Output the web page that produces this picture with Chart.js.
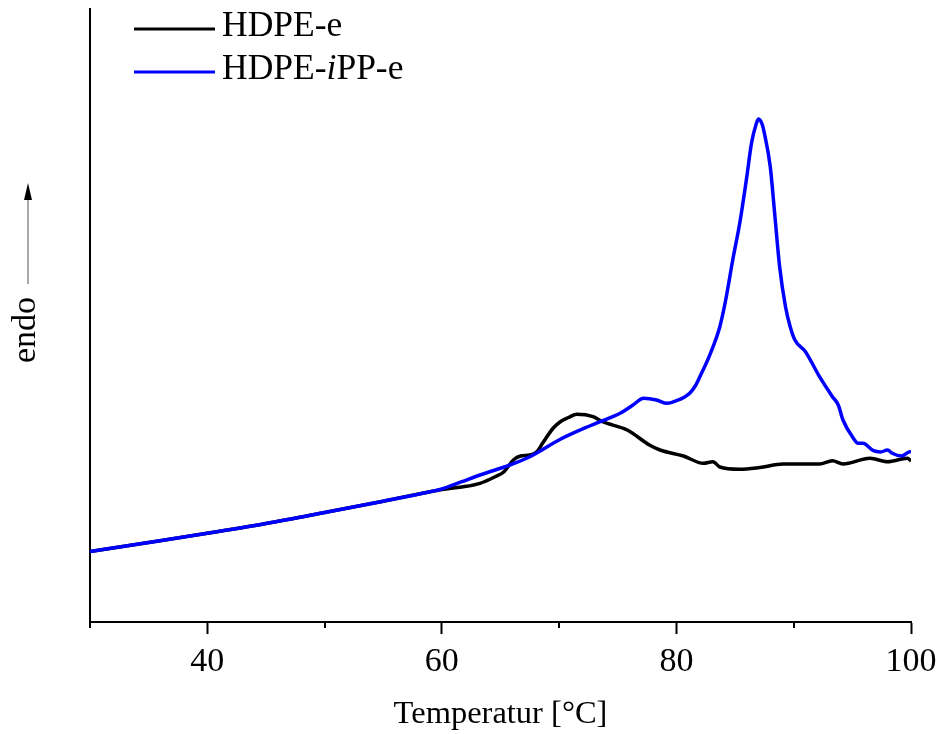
<!DOCTYPE html>
<html>
<head>
<meta charset="utf-8">
<title>DSC endo</title>
<script src="https://cdn.jsdelivr.net/npm/chart.js@4/dist/chart.umd.min.js"></script>
<style>
  body { margin: 0; background: #fff; }
  #dsc { display: block; }
</style>
</head>
<body>
<canvas id="dsc" width="941" height="734"></canvas>
<script>
// x: Temperatur in °C, y: heat flow in arbitrary units (endo up)
const seriesNames = ["HDPE-e", "HDPE-iPP-e"];
const seriesColors = ["#000000", "#0000ff"];

const tempHdpe = [30, 35, 40, 45, 50, 55, 59, 60, 61.7, 63.25, 64.5, 65.3, 66.1, 66.7, 67.5, 68.1,
  68.6, 69.5, 70.1, 70.8, 71.5, 72.9, 73.7, 75.8, 77.7, 78.6, 80.6, 82.3, 83.1, 83.7, 85.4, 87.1,
  89.1, 92.2, 93.3, 94.2, 96.5, 98, 99.7, 100];
const flowHdpe = [0.705, 0.795, 0.887, 0.985, 1.095, 1.208, 1.303, 1.325, 1.35, 1.387, 1.45, 1.503, 1.62, 1.66, 1.67, 1.703,
  1.79, 1.94, 2.003, 2.045, 2.077, 2.053, 2.003, 1.92, 1.77, 1.72, 1.66, 1.587, 1.603, 1.55, 1.527, 1.545,
  1.58, 1.58, 1.613, 1.58, 1.637, 1.603, 1.637, 1.61];

const tempBlend = [30, 35, 40, 45, 50, 55, 59, 60, 61.7, 63.25, 65.8, 67.5, 70.1, 71.8, 73.5, 75.2,
  76.3, 77.2, 78.3, 79.2, 80, 80.7, 81.15, 81.6, 82, 82.9, 83.7, 84.2, 84.8, 85.4, 86, 86.4,
  86.8, 87.0, 87.3, 87.5, 88, 88.4, 88.8, 89.3, 89.7, 90.1, 91, 92.2, 93.3, 93.8, 94.2, 95,
  95.5, 95.9, 96.8, 97.4, 98, 98.4, 99.2, 99.9, 100];
const flowBlend = [0.705, 0.795, 0.887, 0.985, 1.095, 1.208, 1.303, 1.33, 1.403, 1.47, 1.57, 1.653, 1.827, 1.92, 2.003, 2.087,
  2.17, 2.237, 2.22, 2.187, 2.213, 2.25, 2.29, 2.36, 2.453, 2.687, 2.953, 3.22, 3.62, 3.99, 4.453, 4.787,
  4.98, 5.03, 4.98, 4.887, 4.553, 4.053, 3.553, 3.153, 2.953, 2.82, 2.703, 2.453, 2.253, 2.17, 2.02, 1.853,
  1.787, 1.787, 1.713, 1.70, 1.72, 1.687, 1.66, 1.703, 1.70];

const majorTicks = [40, 60, 80, 100];
const minorTicks = [30, 50, 70, 90];

const serif = '"Liberation Serif", "Times New Roman", serif';

function toPoints(xs, ys) {
  return xs.map((x, i) => ({ x: x, y: ys[i] }));
}

// short minor ticks, y label with arrow, legend with italic i
const extras = {
  id: 'extras',
  afterDraw(chart) {
    const ctx = chart.ctx;
    const xs = chart.scales.x;
    const bottom = chart.chartArea.bottom;
    ctx.save();

    ctx.strokeStyle = '#000';
    ctx.lineWidth = 2;
    minorTicks.forEach(v => {
      const px = Math.round(xs.getPixelForValue(v));
      ctx.beginPath();
      ctx.moveTo(px, bottom);
      ctx.lineTo(px, bottom + 6);
      ctx.stroke();
    });

    // endo + arrow
    ctx.save();
    ctx.translate(26, 330);
    ctx.rotate(-Math.PI / 2);
    ctx.fillStyle = '#000';
    ctx.font = '34px ' + serif;
    ctx.textAlign = 'center';
    ctx.textBaseline = 'middle';
    ctx.fillText('endo', 0, 0);
    ctx.restore();

    ctx.strokeStyle = '#555';
    ctx.lineWidth = 1;
    ctx.beginPath();
    ctx.moveTo(28, 284);
    ctx.lineTo(28, 196);
    ctx.stroke();
    ctx.fillStyle = '#000';
    ctx.beginPath();
    ctx.moveTo(28, 183);
    ctx.lineTo(24, 200);
    ctx.lineTo(32, 200);
    ctx.closePath();
    ctx.fill();

    // legend
    const rows = [29, 72];
    ctx.lineWidth = 3;
    ctx.textBaseline = 'middle';
    ctx.textAlign = 'left';
    seriesNames.forEach((name, i) => {
      const y = rows[i];
      ctx.strokeStyle = seriesColors[i];
      ctx.beginPath();
      ctx.moveTo(134, y);
      ctx.lineTo(215, y);
      ctx.stroke();
      ctx.fillStyle = '#000';
      let x = 222;
      const parts = name === 'HDPE-iPP-e' ? [['HDPE-', false], ['i', true], ['PP-e', false]] : [[name, false]];
      parts.forEach(([txt, ital]) => {
        ctx.font = (ital ? 'italic ' : '') + '35.5px ' + serif;
        ctx.fillText(txt, x, y - 2);
        x += ctx.measureText(txt).width;
      });
    });
    ctx.restore();
  }
};

new Chart(document.getElementById('dsc'), {
  type: 'line',
  data: {
    datasets: [
      {
        label: seriesNames[0],
        data: toPoints(tempHdpe, flowHdpe),
        borderColor: seriesColors[0],
        borderWidth: 3.5,
        pointRadius: 0,
        cubicInterpolationMode: 'monotone',
        order: 2
      },
      {
        label: seriesNames[1],
        data: toPoints(tempBlend, flowBlend),
        borderColor: seriesColors[1],
        borderWidth: 3.5,
        pointRadius: 0,
        cubicInterpolationMode: 'monotone',
        order: 1
      }
    ]
  },
  options: {
    responsive: false,
    animation: false,
    layout: { padding: { left: 0, right: 30, top: 9, bottom: 0 } },
    plugins: { legend: { display: false }, tooltip: { enabled: false } },
    scales: {
      x: {
        type: 'linear',
        min: 30,
        max: 100,
        afterFit(scale) {
          scale.height = 112;
          scale.paddingLeft = 0;
          scale.paddingRight = 0;
        },
        afterBuildTicks(scale) { scale.ticks = majorTicks.map(v => ({ value: v })); },
        border: { display: true, color: '#000', width: 2 },
        grid: { display: true, drawOnChartArea: false, tickLength: 12, tickWidth: 2, tickColor: '#000' },
        ticks: { color: '#000', padding: 8, maxRotation: 0, font: { family: serif, size: 34 } },
        title: { display: true, text: 'Temperatur [°C]', color: '#000', padding: 0, font: { family: serif, size: 32.5 } }
      },
      y: {
        min: 0,
        max: 6.13,
        afterFit(scale) { scale.width = 90; },
        border: { display: true, color: '#000', width: 2 },
        grid: { display: false },
        ticks: { display: false }
      }
    }
  },
  plugins: [extras]
});
</script>
</body>
</html>
